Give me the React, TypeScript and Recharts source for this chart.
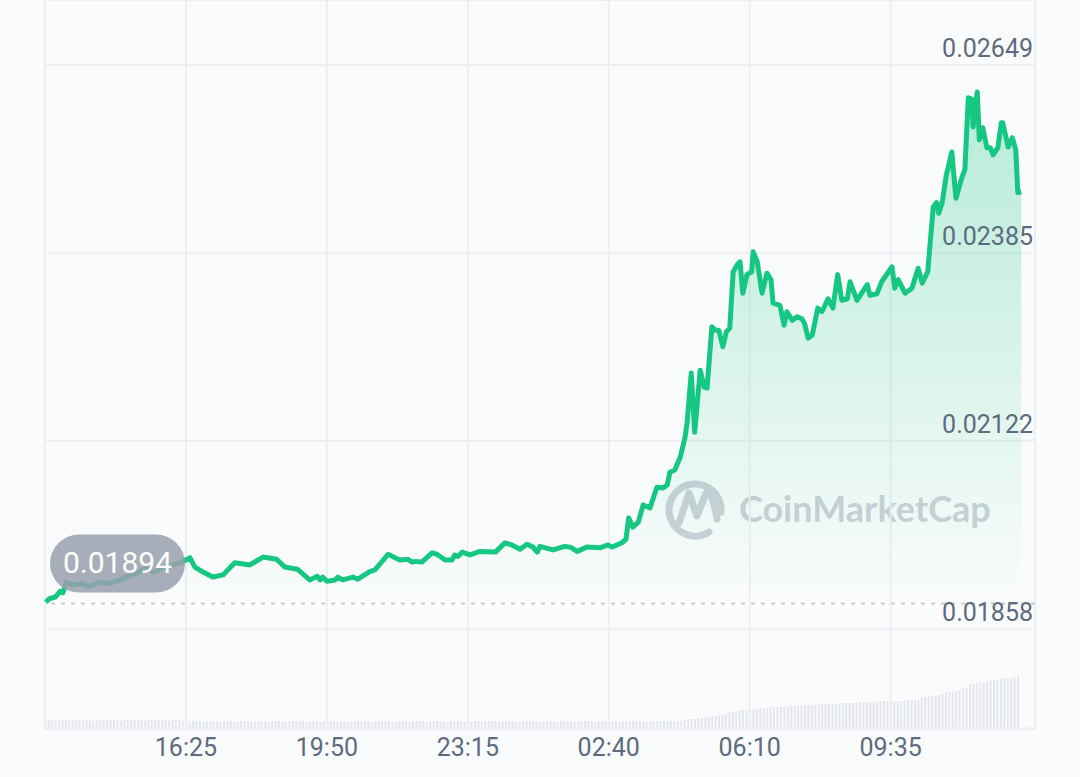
import React from "react";
import { ComposedChart, BarChart, Bar, Area, XAxis, YAxis, CartesianGrid, ReferenceLine } from "recharts";

const W = 1080;
const H = 777;

// minutes after 13:00
const times = [
  1, 7, 15, 22, 26, 31, 39, 54, 65, 80, 95, 109, 121, 134, 148, 157, 172, 186, 199, 211,
  218, 230, 244, 259, 276, 298, 317, 337, 349, 367,
  385, 396, 400, 404, 410, 422, 426, 433, 448, 455, 473, 480, 499, 516, 528, 534, 538, 548, 563, 570,
  582, 592, 596, 601, 607, 618, 633, 655, 669, 679, 691, 701, 710, 716, 720, 739, 756, 764, 774, 788,
  807, 819, 825, 839, 845, 849, 855, 863, 870, 880,
  890, 899, 905, 909, 916, 924, 931, 934, 940, 945, 953, 959, 963, 970, 975, 980, 986, 991, 996, 1001,
  1007, 1011, 1015, 1021, 1028, 1030, 1036, 1043, 1050, 1056, 1059, 1069, 1075, 1079, 1087, 1094, 1101, 1105, 1110, 1116,
  1124, 1130, 1139, 1146, 1153, 1159, 1167, 1171, 1181, 1196, 1200, 1210, 1217, 1232, 1236,
  1241, 1251, 1261, 1270, 1276, 1284, 1292, 1297, 1300, 1305, 1311, 1313, 1319, 1325, 1334, 1338, 1343, 1348, 1350, 1356,
  1359, 1364, 1370, 1375, 1379, 1386, 1391, 1393, 1401, 1407, 1412, 1415, 1420,
];

const prices = [
  0.01896, 0.01901, 0.01903, 0.01911, 0.01909, 0.01924, 0.0192, 0.01922, 0.01918, 0.01924,
  0.01922, 0.01927, 0.01932, 0.01937, 0.01944, 0.01938, 0.01944, 0.01948, 0.01952, 0.01958,
  0.01945, 0.01938, 0.01931, 0.01934, 0.01951, 0.01948, 0.01959, 0.01956, 0.01945, 0.01942,
  0.01927, 0.01932, 0.01927, 0.01931, 0.01925, 0.01927, 0.01931, 0.01927, 0.01931, 0.01928,
  0.01939, 0.01941, 0.01963, 0.01955, 0.01956, 0.01952, 0.01953, 0.01952, 0.01965, 0.01963,
  0.01955, 0.01955, 0.01962, 0.0196, 0.01966, 0.01962, 0.01967, 0.01966, 0.01979, 0.01976,
  0.0197, 0.01977, 0.01973, 0.01966, 0.01974, 0.01969, 0.01974, 0.01973, 0.01967, 0.01973,
  0.01972, 0.01976, 0.01973, 0.01979, 0.01984, 0.02014, 0.02001, 0.02008, 0.02032, 0.02028,
  0.02057, 0.02056, 0.0206, 0.02078, 0.02081, 0.02099, 0.02127, 0.02148, 0.02217, 0.02134,
  0.02221, 0.02197, 0.02196, 0.02282, 0.02277, 0.02277, 0.02254, 0.02275, 0.0228, 0.02359,
  0.02369, 0.02373, 0.02329, 0.02355, 0.02359, 0.02387, 0.02373, 0.02329, 0.02357, 0.02348,
  0.02315, 0.02312, 0.02284, 0.02303, 0.02291, 0.02296, 0.02293, 0.02286, 0.02266, 0.0227,
  0.02308, 0.02303, 0.02321, 0.02308, 0.02355, 0.02319, 0.02321, 0.02345, 0.02319, 0.02341,
  0.02326, 0.02328, 0.02345, 0.02366, 0.02336,
  0.02348, 0.02329, 0.02336, 0.02364, 0.02343, 0.02359, 0.0245, 0.02456, 0.02441, 0.02456,
  0.02495, 0.02502, 0.02527, 0.02462, 0.02492, 0.02502, 0.02603, 0.02601, 0.02562, 0.02611,
  0.02544, 0.02561, 0.02533, 0.02533, 0.02523, 0.02533, 0.02568, 0.02568, 0.02534, 0.02547,
  0.0253, 0.0247, 0.02471,
];

// one bar every 5 minutes, arbitrary units
const volumes = [
  9, 9, 9, 8, 9, 9, 9, 9, 8, 9, 9, 9, 9, 9, 8, 9, 9, 9, 9, 9,
  9, 9, 8, 9, 9, 9, 9, 9, 9, 8, 9, 9, 9, 9, 9, 9, 8, 9, 9, 9,
  8, 8, 7, 8, 8, 8, 7, 8, 8, 8, 8, 7, 8, 8, 8, 8, 7, 8, 8, 8,
  8, 7, 8, 8, 8, 7, 8, 8, 8, 8, 7, 8, 8, 8, 8, 8, 7, 8, 8, 8,
  7, 8, 8, 8, 8, 7, 8, 8, 8, 7, 8, 8, 8, 8, 8, 7, 8, 8, 8, 8,
  8, 7, 8, 8, 8, 8, 7, 8, 8, 8, 8, 7, 8, 8, 8, 8, 8, 7, 8, 8,
  8, 8, 7, 8, 8, 8, 8, 7, 8, 8, 8, 8, 7, 8, 8, 8, 8, 8, 7, 8,
  8, 8, 8, 7, 8, 8, 8, 8, 8, 7, 8, 8, 8, 8, 7, 8, 8, 8, 8, 8,
  7, 8, 8, 8, 8, 8, 8, 7, 8, 8, 8, 8, 8, 8, 8, 7, 8, 8, 8, 8,
  8, 8, 8, 8, 8, 8, 9, 9, 10, 10, 11, 11, 12, 12, 13, 13, 14, 14, 15, 16,
  17, 18, 18, 19, 19, 20, 20, 20, 21, 21, 21, 22, 22, 22, 22, 22, 23, 23, 23, 23,
  24, 24, 24, 24, 24, 24, 25, 25, 25, 25, 25, 26, 26, 26, 26, 26, 27, 27, 27, 27,
  27, 27, 28, 28, 28, 28, 28, 28, 28, 28, 29, 29, 29, 29, 29, 31, 32, 32, 33, 33,
  34, 35, 36, 37, 37, 38, 39, 41, 42, 44, 45, 46, 47, 47, 48, 49, 49, 50, 50, 50,
  51, 51, 52, 53,
];

const tickMinutes = [205, 410, 615, 820, 1025, 1230];
const tickLabels = ["16:25", "19:50", "23:15", "02:40", "06:10", "09:35"];
const priceTicks = [0.01858, 0.02122, 0.02385, 0.02649];
const priceDomain = [0.01718, 0.0274];
const openPrice = 0.01894;

const priceData = times.map((t, i) => ({ t, price: prices[i] }));
const volumeData = volumes.map((v, i) => ({ t: i * 5, vol: v }));

const GREEN = "#16c784";
const LABEL = "#5e6a7d";
const GRID = "#eceef2";

const TimeTick = (props: any) => {
  const { x, y, payload } = props;
  const i = tickMinutes.indexOf(payload.value);
  return (
    <text x={x} y={y + 27} textAnchor="middle" fill={LABEL} fontSize={25} fontFamily="Roboto">
      {tickLabels[i]}
    </text>
  );
};

const PriceTick = (props: any) => {
  const { x, y, payload } = props;
  return (
    <text x={x} y={y - 8} textAnchor="end" fill={LABEL} fontSize={25} fontFamily="Roboto">
      {payload.value}
    </text>
  );
};

const OpenLabel = (props: any) => {
  const vb = props.viewBox;
  const x = vb.x + 5;
  const y = vb.y - 69;
  return (
    <g>
      <rect x={x} y={y} width={135} height={58} rx={29} fill="#99a0ad" fillOpacity={0.85} />
      <text x={x + 67.5} y={y + 39} textAnchor="middle" fill="#ffffff" fontSize={30} fontFamily="Roboto">
        {openPrice}
      </text>
    </g>
  );
};

function Watermark() {
  return (
    <svg width={W} height={H} style={{ position: "absolute", left: 0, top: 0 }}>
      <g stroke="#cdd1d8" strokeWidth={7} fill="none" strokeLinecap="round" strokeLinejoin="round">
        <path d="M 709 532 A 26 26 0 1 1 721 512" />
        <path d="M 679 523 L 689 493 L 697 516 L 706 493 C 713 493 715 508 717 519" />
      </g>
      <text x={739} y={522} fill="#cdd1d8" fontSize={36} fontWeight={700} fontFamily="Lato">
        CoinMarketCap
      </text>
    </svg>
  );
}

export default function App() {
  return (
    <div style={{ position: "absolute", left: 0, top: 0, width: W, height: H, background: "#fafbfc", overflow: "hidden" }}>
      <Watermark />
      <div style={{ position: "absolute", left: 0, top: 0 }}>
        <BarChart width={W} height={H} data={volumeData} margin={{ top: 629, right: 45, bottom: 48, left: 45 }}>
          <XAxis dataKey="t" type="number" domain={[0, 1440]} hide />
          <YAxis domain={[0, 100]} hide />
          <Bar dataKey="vol" fill="#e3e6eb" barSize={2} isAnimationActive={false} />
        </BarChart>
      </div>
      <div style={{ position: "absolute", left: 0, top: 0 }}>
        <ComposedChart width={W} height={H} data={priceData} margin={{ top: 0, right: 45, bottom: 0, left: 45 }}>
          <defs>
            <linearGradient id="priceFill" x1="0" y1="0" x2="0" y2="1">
              <stop offset="0%" stopColor={GREEN} stopOpacity={0.3} />
              <stop offset="80%" stopColor={GREEN} stopOpacity={0} />
            </linearGradient>
          </defs>
          <CartesianGrid stroke={GRID} strokeWidth={2} />
          <XAxis
            dataKey="t"
            type="number"
            domain={[0, 1440]}
            ticks={tickMinutes}
            height={48}
            axisLine={{ stroke: GRID, strokeWidth: 3 }}
            tickLine={false}
            tickSize={0}
            tickMargin={0}
            tick={<TimeTick />}
          />
          <YAxis
            orientation="right"
            mirror
            domain={priceDomain}
            ticks={priceTicks}
            allowDataOverflow
            axisLine={false}
            tickLine={false}
            tickSize={0}
            tickMargin={2}
            tick={<PriceTick />}
          />
          <Area
            type="linear"
            dataKey="price"
            stroke={GREEN}
            strokeWidth={5}
            strokeLinejoin="round"
            fill="url(#priceFill)"
            fillOpacity={1}
            dot={false}
            activeDot={false}
            isAnimationActive={false}
          />
          <ReferenceLine y={openPrice} stroke="#c9cdd4" strokeWidth={2} strokeDasharray="4 6" label={<OpenLabel />} />
        </ComposedChart>
      </div>
    </div>
  );
}
